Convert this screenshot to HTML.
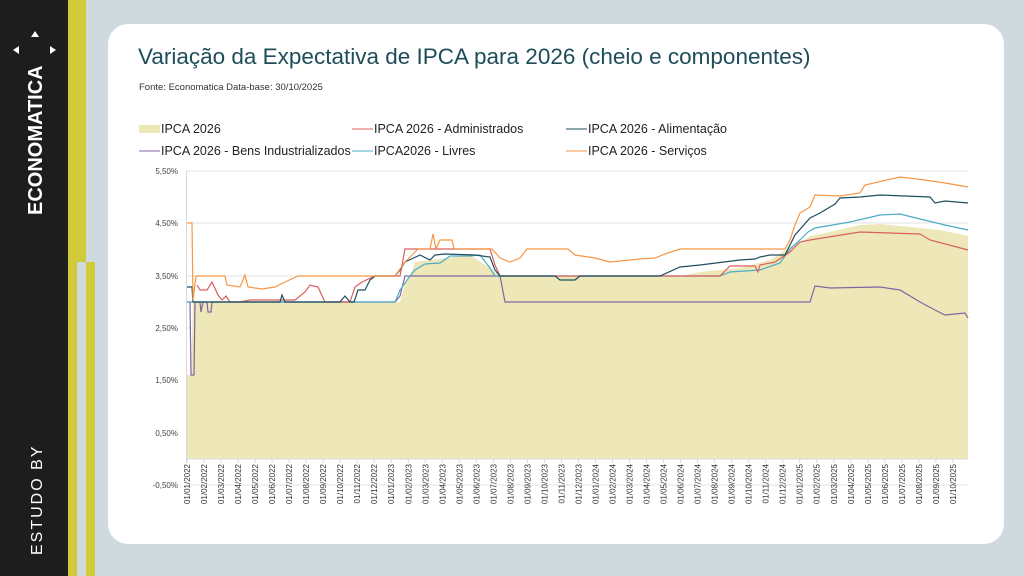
<!DOCTYPE html>
<html><head><meta charset="utf-8"><style>
html,body{margin:0;padding:0}
body{width:1024px;height:576px;background:#cfdade;position:relative;overflow:hidden;font-family:"Liberation Sans",sans-serif}
.dark{position:absolute;left:0;top:0;width:68px;height:576px;background:#1d1d1d}
.card{position:absolute;left:108px;top:24px;width:896px;height:520px;background:#fff;border-radius:20px}
</style></head><body>
<div class="dark"></div>
<div style="position:absolute;left:68px;top:0;width:18px;height:262px;background:#d1cb3a"></div>
<div style="position:absolute;left:68px;top:262px;width:9px;height:314px;background:#d1cb3a"></div>
<div style="position:absolute;left:86px;top:262px;width:9px;height:314px;background:#d1cb3a"></div>
<div class="card"></div>
<svg width="1024" height="576" style="position:absolute;left:0;top:0" font-family="Liberation Sans, sans-serif">
<text transform="translate(42,215) rotate(-90)" fill="#fff" font-size="20" font-weight="bold">ECONOMATICA</text>
<polygon points="31,37 35,31 39,37" fill="#fff"/>
<polygon points="19,46 13,50 19,54" fill="#fff"/>
<polygon points="50,46 56,50 50,54" fill="#fff"/>
<text transform="translate(42,555) rotate(-90)" fill="#fff" font-size="16" letter-spacing="2">ESTUDO BY</text>
<text x="138" y="64" fill="#1e4d5a" font-size="22.5">Variação da Expectativa de IPCA para 2026 (cheio e componentes)</text>
<text x="139" y="90" fill="#333" font-size="9.5">Fonte: Economatica Data-base: 30/10/2025</text>
<g font-size="12.5" fill="#222">
<rect x="139" y="125" width="21" height="8" fill="#eee8b9"/><text x="161" y="133">IPCA 2026</text>
<line x1="352" y1="129" x2="373" y2="129" stroke="#d9605d"/><text x="374" y="133">IPCA 2026 - Administrados</text>
<line x1="566" y1="129" x2="587" y2="129" stroke="#1f4e5f"/><text x="588" y="133">IPCA 2026 - Alimentação</text>
<line x1="139" y1="151" x2="160" y2="151" stroke="#8064a2"/><text x="161" y="155">IPCA 2026 - Bens Industrializados</text>
<line x1="352" y1="151" x2="373" y2="151" stroke="#4bacc6"/><text x="374" y="155">IPCA2026 - Livres</text>
<line x1="566" y1="151" x2="587" y2="151" stroke="#f79646"/><text x="588" y="155">IPCA 2026 - Serviços</text>
</g>
<g stroke="#e3e3e3" stroke-width="1">
<line x1="186" y1="171" x2="968" y2="171"/><line x1="186" y1="223" x2="968" y2="223"/><line x1="186" y1="276" x2="968" y2="276"/><line x1="186" y1="328" x2="968" y2="328"/><line x1="186" y1="380" x2="968" y2="380"/><line x1="186" y1="433" x2="968" y2="433"/><line x1="186" y1="485" x2="968" y2="485"/>
</g>
<g font-size="8" fill="#444" text-anchor="end">
<text x="178" y="174">5,50%</text><text x="178" y="226">4,50%</text><text x="178" y="279">3,50%</text><text x="178" y="331">2,50%</text><text x="178" y="383">1,50%</text><text x="178" y="436">0,50%</text><text x="178" y="488">-0,50%</text>
</g>
<polygon fill="#eee8b9" points="187,459 187,375 191,375 193,302 400,302 405,284 410,276 415,262 470,255 490,268 500,276 680,276 700,272 720,270 740,268 770,260 790,247 800,242 810,236 830,232 860,225 880,224 900,226 940,230 968,236 968,459"/>
<line x1="186" y1="459" x2="968" y2="459" stroke="#d9d9d9"/>
<line x1="186.5" y1="171" x2="186.5" y2="463" stroke="#d9d9d9"/>
<g fill="none" stroke-width="1.2">
<polyline stroke="#8064a2" points="187,302 190,302 191,375 194,375 195,302 200,302 201,312 203,302 207,302 208,312 211,312 212,302 395,302 400,296 405,276 500,276 505,302 780,302 810,302 815,286 830,288 880,287 900,290 920,302 935,310 945,315 965,313 968,318"/>
<polyline stroke="#4bacc6" points="187,302 395,302 400,290 405,283 410,276 415,270 425,264 440,263 450,256 470,256 480,255 490,268 495,276 720,276 730,272 760,270 780,263 790,249 800,240 808,232 815,228 850,222 880,215 900,214 920,219 945,225 968,230"/>
<polyline stroke="#d9605d" points="197,285 200,290 207,290 212,282 218,295 222,300 226,296 230,302 240,302 250,300 270,300 295,300 305,292 310,285 318,287 325,302 350,302 355,287 362,282 375,276 400,276 405,249 490,249 495,265 500,276 720,276 730,266 755,266 758,272 760,265 775,262 790,252 800,242 810,240 835,236 860,232 920,234 930,240 968,250"/>
<polyline stroke="#1f4e5f" points="187,287 192,287 193,302 280,302 282,295 285,302 340,302 345,296 350,302 354,302 358,290 365,290 370,280 375,276 395,276 400,270 405,262 420,255 430,260 435,255 445,254 475,255 490,257 495,270 500,276 555,276 560,280 575,280 580,276 660,276 680,267 700,265 740,260 755,259 760,257 770,255 785,255 795,235 810,218 820,213 835,204 840,198 860,197 880,195 930,197 935,203 945,201 968,203"/>
<polyline stroke="#f79646" points="187,223 192,223 193,300 196,276 225,276 227,285 240,287 245,275 248,287 262,289 275,287 285,282 298,276 395,276 405,262 412,255 418,249 430,249 433,234 436,249 440,240 452,240 454,249 492,249 500,258 510,262 520,258 527,249 568,249 575,255 595,258 610,262 640,259 655,258 665,254 680,249 785,249 790,240 795,225 800,213 810,207 815,195 840,196 860,193 865,185 900,177 925,180 945,183 968,187"/>
</g>
<g id="xl" font-size="8" fill="#333" text-anchor="end"></g>
</svg>
<script>
var g=document.getElementById('xl'),s='';
for(var m=0;m<46;m++){var x=187+m*17.02,mo=(m%12)+1,y=2022+Math.floor(m/12);
var t='01/'+(mo<10?'0':'')+mo+'/'+y;
s+='<line x1="'+x+'" y1="459" x2="'+x+'" y2="463" stroke="#d9d9d9"/>';
s+='<text transform="translate('+(x+3)+',464) rotate(-90)">'+t+'</text>';}
g.innerHTML=s;
</script>
</body></html>
